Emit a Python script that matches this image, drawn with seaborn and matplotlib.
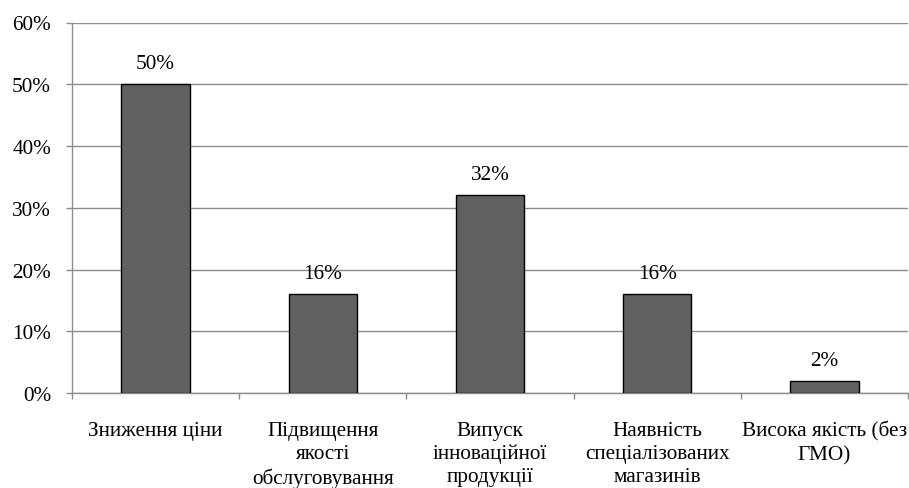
import matplotlib
matplotlib.use("Agg")
import matplotlib.pyplot as plt
import seaborn as sns
import pandas as pd
from matplotlib.ticker import FuncFormatter, MultipleLocator

categories = [
    "Зниження ціни",
    "Підвищення\nякості\nобслуговування",
    "Випуск\nінноваційної\nпродукції",
    "Наявність\nспеціалізованих\nмагазинів",
    "Висока якість (без\nГМО)",
]
values = [50, 16, 32, 16, 2]
value_labels = ["50%", "16%", "32%", "16%", "2%"]
y_ticks = [0, 10, 20, 30, 40, 50, 60]

FS = 15.3
AXIS_GREY = "#8c8c8c"

sns.set_theme(style="white")
plt.rcParams["font.family"] = ["Liberation Serif", "DejaVu Serif"]

df = pd.DataFrame({"category": categories, "value": values})

fig = plt.figure(figsize=(9.09, 4.89), dpi=100)
ax = fig.add_axes([72 / 909, 95 / 489, 836 / 909, 370.5 / 489])

sns.barplot(data=df, x="category", y="value", color="#606060",
            edgecolor="black", linewidth=1.0, width=0.41, saturation=1,
            ax=ax, zorder=3)

ax.set_ylim(0, 60)
ax.set_xlim(-0.5, len(categories) - 0.5)
ax.set_yticks(y_ticks)
ax.yaxis.set_major_formatter(FuncFormatter(lambda v, _: f"{v:.0f}%"))
ax.yaxis.grid(True, color=AXIS_GREY, linewidth=1.0, zorder=0)
ax.set_xlabel("")
ax.set_ylabel("")

for s in ["top", "right"]:
    ax.spines[s].set_visible(False)
for s in ["left", "bottom"]:
    ax.spines[s].set_color(AXIS_GREY)
    ax.spines[s].set_linewidth(1.0)

ax.tick_params(axis="y", which="major", left=True, length=4, width=1.0,
               color=AXIS_GREY, labelsize=FS, pad=11, labelcolor="black")
ax.tick_params(axis="x", which="major", bottom=False, labelsize=FS,
               pad=14, labelcolor="black")
ax.xaxis.set_minor_locator(MultipleLocator(1, offset=0.5))
ax.tick_params(axis="x", which="minor", bottom=True, length=4.5, width=1.0,
               color=AXIS_GREY)
for lbl in ax.get_xticklabels():
    lbl.set_linespacing(1.28)
    lbl.set_horizontalalignment("center")

for i, (v, t) in enumerate(zip(values, value_labels)):
    ax.annotate(t, (i, v), xytext=(0, 8), textcoords="offset points",
                ha="center", va="bottom", fontsize=FS, color="black")

fig.savefig("out.png", dpi=100, facecolor="white")
